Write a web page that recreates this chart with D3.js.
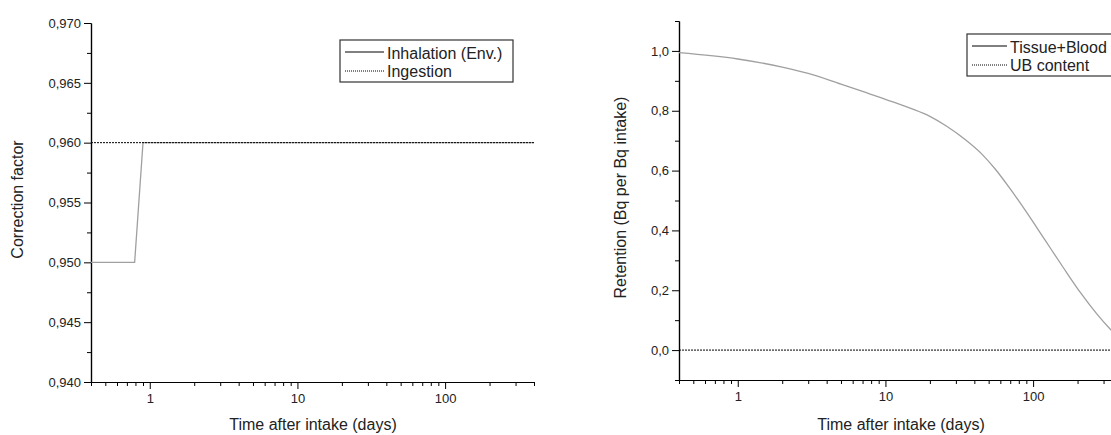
<!DOCTYPE html>
<html>
<head>
<meta charset="utf-8">
<script src="https://cdn.jsdelivr.net/npm/d3@7"></script>
<style>
  body { margin: 0; background: #fff; }
  text { font-family: "Liberation Sans", Arial, sans-serif; fill: #222; }
</style>
</head>
<body>
<div id="canvas"></div>
<script>
"use strict"

/* ---------- DATA ---------- */
// left panel: correction factor vs time (days)
let inhalTime  = [0.4, 0.79, 0.9, 400];
let inhalValue = [0.950, 0.950, 0.960, 0.960];
let ingestTime  = [0.4, 400];
let ingestValue = [0.960, 0.960];

// right panel: retention vs time (days)
let tissueTime  = [0.4, 1, 2, 3, 5, 7, 10, 15, 20, 26, 35, 45, 55, 70, 90, 120, 160, 210, 270, 330, 400];
let tissueValue = [0.994, 0.973, 0.946, 0.925, 0.889, 0.865, 0.838, 0.807, 0.781, 0.748, 0.702, 0.655, 0.607, 0.539, 0.462, 0.369, 0.276, 0.191, 0.121, 0.072, 0.032];
let ubTime  = [0.4, 400];
let ubValue = [0.0, 0.0];

// tick values
let xMajorTicks = [1, 10, 100];
let xMinorTicks = [0.4, 0.5, 0.6, 0.7, 0.8, 0.9, 2, 3, 4, 5, 6, 7, 8, 9,
                   20, 30, 40, 50, 60, 70, 80, 90, 200, 300, 400];
let leftYMajor = [0.940, 0.945, 0.950, 0.955, 0.960, 0.965, 0.970];
let leftYMinor = [0.9425, 0.9475, 0.9525, 0.9575, 0.9625, 0.9675];
let rightYMajor = [0.0, 0.2, 0.4, 0.6, 0.8, 1.0];
let rightYMinor = [-0.1, 0.1, 0.3, 0.5, 0.7, 0.9, 1.1];

let leftLegend  = ["Inhalation (Env.)", "Ingestion"];
let rightLegend = ["Tissue+Blood", "UB content"];

/* ---------- CANVAS ---------- */
let drawing = d3.select("#canvas")
    .append("svg")
    .attr("width", 1111)
    .attr("height", 435);

let locale = d3.formatLocale({ decimal: ",", thousands: ".", grouping: [3], currency: ["", ""] });

/* draw one panel */
function panel(opt) {
  let x = d3.scaleLog().domain([0.4, 400]).range([opt.left, opt.left + 443]);
  let y = d3.scaleLinear().domain(opt.yDomain).range([opt.bottom, opt.top]);

  let g = drawing.append("g");

  // x axis: minor + major ticks
  g.append("g")
    .attr("transform", "translate(0," + opt.bottom + ")")
    .call(d3.axisBottom(x).tickValues(xMinorTicks).tickSize(4).tickSizeOuter(0).tickFormat(""));
  g.append("g")
    .attr("transform", "translate(0," + opt.bottom + ")")
    .call(d3.axisBottom(x).tickValues(xMajorTicks).tickSize(7).tickSizeOuter(0).tickPadding(5)
      .tickFormat(d3.format("d")));

  // y axis
  g.append("g")
    .attr("transform", "translate(" + opt.left + ",0)")
    .call(d3.axisLeft(y).tickValues(opt.yMinor).tickSize(4).tickSizeOuter(0).tickFormat(""));
  g.append("g")
    .attr("transform", "translate(" + opt.left + ",0)")
    .call(d3.axisLeft(y).tickValues(opt.yMajor).tickSize(7).tickSizeOuter(0).tickPadding(3)
      .tickFormat(locale.format(opt.fmt)));

  g.selectAll(".domain").attr("stroke", "#000").attr("stroke-width", 1.2);
  g.selectAll(".tick line").attr("stroke", "#000").attr("stroke-width", 1);
  g.selectAll(".tick text").style("font-size", "13px").style("font-family", "Liberation Sans, Arial, sans-serif").attr("fill", "#222");

  // axis titles
  g.append("text")
    .attr("x", opt.left + 222).attr("y", 430)
    .attr("text-anchor", "middle")
    .style("font-size", "16px")
    .text("Time after intake (days)");
  g.append("text")
    .attr("transform", "translate(" + opt.yTitleX + "," + ((opt.top + opt.bottom) / 2 - 3) + ") rotate(-90)")
    .attr("text-anchor", "middle")
    .style("font-size", "16px")
    .text(opt.yTitle);

  let line = d3.line().x(d => x(d[0])).y(d => y(d[1]));

  // solid grey series
  g.append("path")
    .datum(d3.zip(opt.solidT, opt.solidV))
    .attr("d", line.curve(opt.curve))
    .attr("fill", "none")
    .attr("stroke", "#a0a0a0")
    .attr("stroke-width", 1.3);

  // dotted black series
  g.append("path")
    .datum(d3.zip(opt.dotT, opt.dotV))
    .attr("d", d3.line().x(d => x(d[0])).y(d => y(d[1])))
    .attr("fill", "none")
    .attr("stroke", "#000")
    .attr("stroke-width", 1)
    .attr("stroke-dasharray", "2,1");

  // legend
  let lg = g.append("g").attr("transform", "translate(" + opt.legX + "," + opt.legY + ")");
  lg.append("rect")
    .attr("width", opt.legW).attr("height", 42)
    .attr("fill", "#fff").attr("stroke", "#333").attr("stroke-width", 1.2);
  lg.append("line")
    .attr("x1", 5).attr("x2", opt.legLine).attr("y1", 12).attr("y2", 12)
    .attr("stroke", "#000").attr("stroke-width", 1);
  lg.append("line")
    .attr("x1", 5).attr("x2", opt.legLine).attr("y1", 31).attr("y2", 31)
    .attr("stroke", "#000").attr("stroke-width", 1).attr("stroke-dasharray", "1,1");
  lg.append("text").attr("x", opt.legLine + 3).attr("y", 19).style("font-size", "16px").text(opt.legend[0]);
  lg.append("text").attr("x", opt.legLine + 3).attr("y", 37).style("font-size", "16px").text(opt.legend[1]);
}

/* ---------- LEFT PANEL ---------- */
panel({
  left: 91, top: 23, bottom: 382,
  yDomain: [0.940, 0.970], yMajor: leftYMajor, yMinor: leftYMinor, fmt: ".3f",
  yTitle: "Correction factor", yTitleX: 23,
  solidT: inhalTime, solidV: inhalValue, curve: d3.curveLinear,
  dotT: ingestTime, dotV: ingestValue,
  legX: 340, legY: 40, legW: 173, legLine: 44, legend: leftLegend
});

/* ---------- RIGHT PANEL ---------- */
panel({
  left: 679, top: 21, bottom: 380,
  yDomain: [-0.1, 1.1], yMajor: rightYMajor, yMinor: rightYMinor, fmt: ".1f",
  yTitle: "Retention (Bq per Bq intake)", yTitleX: 626,
  solidT: tissueTime, solidV: tissueValue, curve: d3.curveMonotoneX,
  dotT: ubTime, dotV: ubValue,
  legX: 967, legY: 34, legW: 160, legLine: 40, legend: rightLegend
});
</script>
</body>
</html>
